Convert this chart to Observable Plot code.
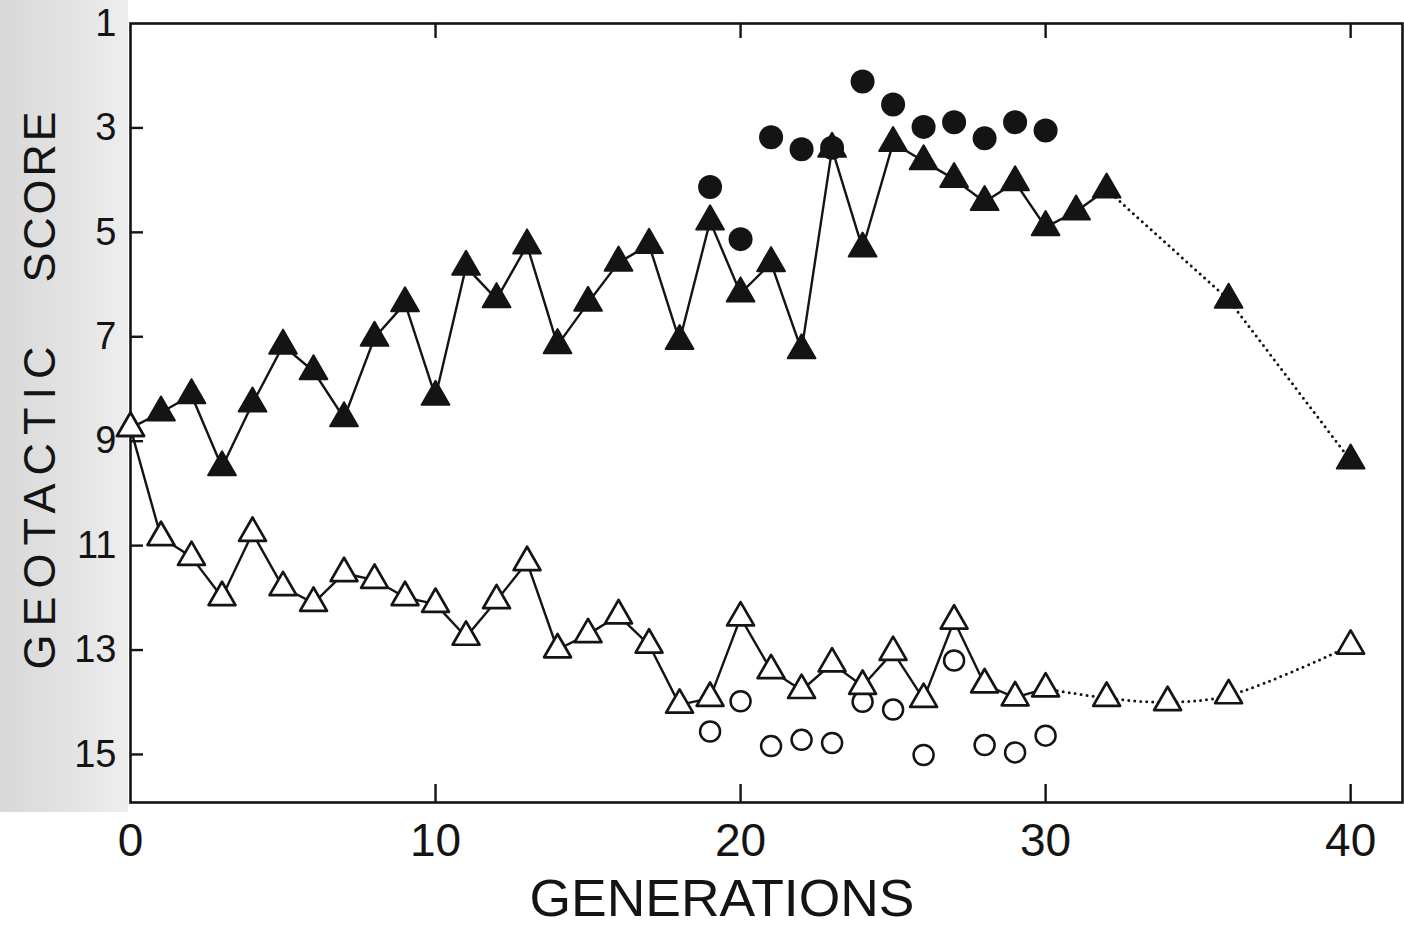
<!DOCTYPE html>
<html>
<head>
<meta charset="utf-8">
<script src="https://cdn.jsdelivr.net/npm/d3@7"></script>
<script src="https://cdn.jsdelivr.net/npm/@observablehq/plot@0.6"></script>
<style>
html, body { margin: 0; padding: 0; background: #fff; }
#wrap { position: relative; width: 1404px; height: 929px; overflow: hidden; }
#shade { position: absolute; left: 0; top: 0; width: 128px; height: 812px;
  background: linear-gradient(to right, #d8d8d8, #e4e4e4 60%, #eeeeee); }
#wrap svg { position: absolute; left: 0; top: 0; }
</style>
</head>
<body>
<div id="wrap"><div id="shade"></div></div>
<script>
// ---- Data ----
// Selected "up" line (filled triangles): generations and mean geotactic scores
const filledGen = [0,1,2,3,4,5,6,7,8,9,10,11,12,13,14,15,16,17,18,19,20,21,22,23,24,25,26,27,28,29,30,31,32,36,40];
const filledScore = [8.75,8.45,8.12,9.5,8.28,7.17,7.66,8.56,7.02,6.36,8.15,5.66,6.28,5.25,7.16,6.35,5.58,5.24,7.08,4.79,6.17,5.59,7.26,3.4,5.31,3.29,3.64,3.98,4.42,4.04,4.9,4.6,4.18,6.29,9.37];
const filledSolidEnd = 32;   // after this generation the line is dotted

// Selected "down" line (open triangles)
const openGen = [0,1,2,3,4,5,6,7,8,9,10,11,12,13,14,15,16,17,18,19,20,21,22,23,24,25,26,27,28,29,30,32,34,36,40];
const openScore = [8.75,10.84,11.22,11.99,10.76,11.8,12.1,11.53,11.66,11.99,12.12,12.75,12.05,11.32,12.99,12.7,12.34,12.9,14.05,13.92,12.38,13.39,13.77,13.26,13.69,13.04,13.94,12.44,13.66,13.91,13.74,13.92,14.0,13.87,12.92];
const openSolidEnd = 30;

// Circles (generations 19-30)
const circleGen = [19,20,21,22,23,24,25,26,27,28,29,30];
const filledCircleScore = [4.13,5.13,3.18,3.41,3.38,2.11,2.55,2.98,2.89,3.2,2.89,3.05];
const openCircleScore = [14.56,13.98,14.84,14.72,14.78,13.99,14.14,15.01,13.2,14.82,14.96,14.64];

// Axis ticks
const xTickLabels = [0,10,20,30,40];
const xTickMarks = [10,20,30,40];
const yTickLabels = [1,3,5,7,9,11,13,15];
const yTickMarks = [3,5,7,9,11,13,15];

const xTitle = "GENERATIONS";
const yTitleWords = ["GEOTACTIC", "SCORE"];

// ---- Build tables ----
const filled = filledGen.map((g, i) => ({g, s: filledScore[i]}));
const open = openGen.map((g, i) => ({g, s: openScore[i]}));
const fCirc = circleGen.map((g, i) => ({g, s: filledCircleScore[i]}));
const oCirc = circleGen.map((g, i) => ({g, s: openCircleScore[i]}));

const ink = "#141414";
const W = 1404, H = 929, mL = 130, mR = 2, mT = 23, mB = 127;
const innerW = W - mL - mR, innerH = H - mT - mB;

const chart = Plot.plot({
  width: W, height: H,
  marginLeft: mL, marginRight: mR, marginTop: mT, marginBottom: mB,
  style: {background: "transparent", fontFamily: "'Liberation Sans', Arial, sans-serif", color: ink},
  x: {domain: [0, 41.7], axis: null},
  y: {domain: [1, 15.92], reverse: true, axis: null},
  marks: [
    Plot.frame({stroke: ink, strokeWidth: 2.6}),
    Plot.tickX(xTickMarks, {x: d => d, insetTop: innerH - 18, stroke: ink, strokeWidth: 2.4}),
    Plot.tickX(xTickMarks, {x: d => d, insetBottom: innerH - 15, stroke: ink, strokeWidth: 2.4}),
    Plot.tickY(yTickMarks, {y: d => d, insetRight: innerW - 13, stroke: ink, strokeWidth: 2.4}),
    Plot.axisX(xTickLabels, {anchor: "bottom", tickSize: 0, tickPadding: 21, fontSize: 46, label: null, tickFormat: d => String(d)}),
    Plot.axisY(yTickLabels, {anchor: "left", tickSize: 0, tickPadding: 14, fontSize: 38, label: null, tickFormat: d => String(d)}),
    // lines
    Plot.line(filled.filter(d => d.g <= filledSolidEnd), {x: "g", y: "s", stroke: ink, strokeWidth: 2.4}),
    Plot.line(filled.filter(d => d.g >= filledSolidEnd), {x: "g", y: "s", stroke: ink, strokeWidth: 3, strokeDasharray: "0,6", strokeLinecap: "round"}),
    Plot.line(open.filter(d => d.g <= openSolidEnd), {x: "g", y: "s", stroke: ink, strokeWidth: 2.4}),
    Plot.line(open.filter(d => d.g >= openSolidEnd), {x: "g", y: "s", stroke: ink, strokeWidth: 3, strokeDasharray: "0,6", strokeLinecap: "round", curve: "catmull-rom"}),
    // markers
    Plot.dot(oCirc, {x: "g", y: "s", r: 10, fill: "white", stroke: ink, strokeWidth: 2.5}),
    Plot.dot(filled, {x: "g", y: "s", symbol: "triangle", r: 10.3, fill: ink, stroke: ink, strokeWidth: 2, strokeLinejoin: "round"}),
    Plot.dot(open, {x: "g", y: "s", symbol: "triangle", r: 10, fill: "white", stroke: ink, strokeWidth: 2.7, strokeLinejoin: "round"}),
    Plot.dot(fCirc, {x: "g", y: "s", r: 12, fill: ink})
  ]
});

document.getElementById("wrap").appendChild(chart);

// Axis titles
const svg = d3.select(chart);
const fam = "'Liberation Sans', Arial, sans-serif";
svg.append("text")
  .attr("transform", "translate(55,508) rotate(-90)")
  .attr("text-anchor", "middle").attr("font-family", fam).attr("font-size", 45)
  .attr("fill", ink).attr("textLength", 323).attr("lengthAdjust", "spacing")
  .text(yTitleWords[0]);
svg.append("text")
  .attr("transform", "translate(55,197) rotate(-90)")
  .attr("text-anchor", "middle").attr("font-family", fam).attr("font-size", 45)
  .attr("fill", ink).attr("textLength", 171).attr("lengthAdjust", "spacing")
  .text(yTitleWords[1]);
svg.append("text")
  .attr("x", 722).attr("y", 916)
  .attr("text-anchor", "middle").attr("font-family", fam).attr("font-size", 51)
  .attr("fill", ink).attr("textLength", 385).attr("lengthAdjust", "spacingAndGlyphs")
  .text(xTitle);
</script>
</body>
</html>
